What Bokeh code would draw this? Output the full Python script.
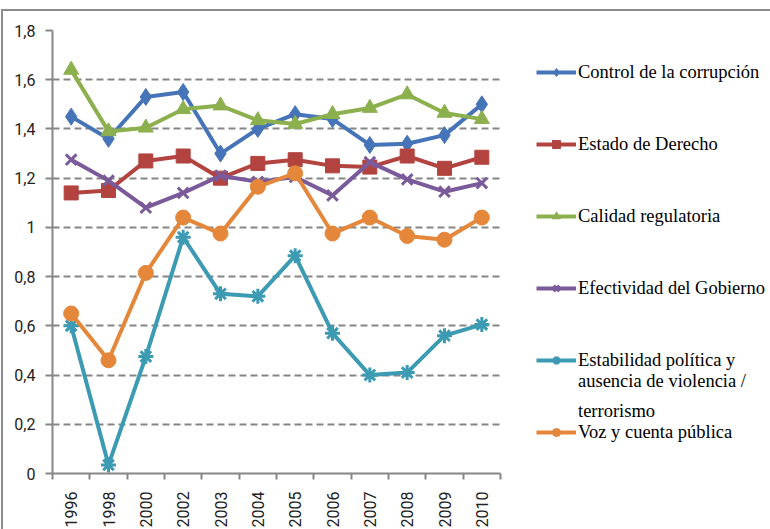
from bokeh.plotting import figure
from bokeh.models import (FixedTicker, CustomJSTickFormatter, Legend, LegendItem)
from bokeh.embed import file_html
from bokeh.resources import INLINE

years = ["1996", "1998", "2000", "2002", "2003", "2004", "2005", "2006", "2007", "2008", "2009", "2010"]

control_corrupcion = [1.45, 1.36, 1.53, 1.55, 1.30, 1.40, 1.46, 1.44, 1.335, 1.34, 1.375, 1.50]
estado_derecho = [1.14, 1.15, 1.27, 1.29, 1.20, 1.26, 1.275, 1.25, 1.245, 1.29, 1.24, 1.285]
calidad_regulatoria = [1.64, 1.39, 1.405, 1.48, 1.495, 1.435, 1.42, 1.46, 1.485, 1.54, 1.465, 1.44]
efectividad_gobierno = [1.275, 1.19, 1.08, 1.14, 1.21, 1.185, 1.205, 1.13, 1.265, 1.195, 1.145, 1.18]
estabilidad_politica = [0.60, 0.035, 0.475, 0.96, 0.73, 0.72, 0.885, 0.57, 0.40, 0.41, 0.56, 0.605]
voz_cuenta = [0.65, 0.46, 0.815, 1.04, 0.975, 1.165, 1.22, 0.975, 1.04, 0.965, 0.95, 1.04]

# legend labels; the long one wraps over the last two entries' text lines
series_names = ["Control de la corrupción", "Estado de Derecho", "Calidad regulatoria",
                "Efectividad del Gobierno",
                "\nEstabilidad política y\nausencia de violencia /",
                "terrorismo\nVoz y cuenta pública\n\u00a0"]
y_ticks = [0, 0.2, 0.4, 0.6, 0.8, 1.0, 1.2, 1.4, 1.6, 1.8]

x_pos = [i + 0.5 for i in range(len(years))]

p = figure(frame_width=448, frame_height=443, x_range=(0, len(years)), y_range=(0, 1.8),
           output_backend="svg", toolbar_location=None,
           min_border_left=49, min_border_right=262, min_border_top=19, min_border_bottom=48)
p.styles = {"border-top": "2px solid #8c8c8c", "border-left": "2px solid #8c8c8c",
            "margin-top": "9px", "margin-left": "1px"}
p.outline_line_color = None
p.background_fill_color = "white"
p.border_fill_color = "white"

grid_col = "#868686"
p.xgrid.grid_line_color = None
p.ygrid.grid_line_color = grid_col
p.ygrid.grid_line_width = 2
p.ygrid.grid_line_dash = "7 4"
p.ygrid.ticker = FixedTicker(ticks=y_ticks)

p.yaxis.ticker = FixedTicker(ticks=y_ticks)
p.yaxis.formatter = CustomJSTickFormatter(code="var s = tick.toFixed(1).replace('.', ','); return s.endsWith(',0') ? s.slice(0, -2) : s;")
p.yaxis.axis_line_color = grid_col
p.yaxis.axis_line_width = 2
p.yaxis.major_tick_line_color = grid_col
p.yaxis.major_tick_line_width = 2
p.yaxis.major_tick_out = 7
p.yaxis.major_tick_in = 0
p.yaxis.minor_tick_line_color = None
p.yaxis.major_label_standoff = 10
p.yaxis.major_label_text_font = "Roboto"
p.yaxis.major_label_text_font_size = "16px"
p.yaxis.major_label_text_color = "#222222"

p.xaxis.ticker = FixedTicker(ticks=x_pos, minor_ticks=list(range(len(years) + 1)))
p.xaxis.major_label_overrides = {x: y for x, y in zip(x_pos, years)}
p.xaxis.major_label_orientation = 1.5708
p.xaxis.axis_line_color = grid_col
p.xaxis.axis_line_width = 2
p.xaxis.major_tick_line_color = None
p.xaxis.major_tick_out = 0
p.xaxis.major_tick_in = 0
p.xaxis.minor_tick_line_color = grid_col
p.xaxis.minor_tick_line_width = 2
p.xaxis.minor_tick_out = 6
p.xaxis.minor_tick_in = 0
p.xaxis.major_label_standoff = 12
p.xaxis.major_label_text_font = "Roboto"
p.xaxis.major_label_text_font_size = "16px"
p.xaxis.major_label_text_color = "#222222"

colors = ["#4674B8", "#B2433F", "#8DB04F", "#7A5A9A", "#3C9AB3", "#E5873A"]
markers = ["diamond", "square", "triangle", "x", "asterisk", "circle"]
sizes = [17, 14, 15, 15, 15, 15]
data = [control_corrupcion, estado_derecho, calidad_regulatoria,
        efectividad_gobierno, estabilidad_politica, voz_cuenta]

items = []
for name, vals, col, mk, sz in zip(series_names, data, colors, markers, sizes):
    l = p.line(x_pos, vals, line_color=col, line_width=4)
    lw = 3 if mk in ("x", "asterisk") else 1
    s = p.scatter(x_pos, vals, marker=mk, size=sz, fill_color=col, line_color=col, line_width=lw)
    items.append(LegendItem(label=name, renderers=[l, s]))

lp = 21
item_h = 3 * lp
legend = Legend(items=items, location=(36, 473 - 432 - item_h / 2), orientation="vertical",
                glyph_width=40, glyph_height=20, label_height=item_h, spacing=72 - item_h,
                label_standoff=2, padding=0, margin=0, border_line_color=None,
                background_fill_alpha=0, label_text_font="Liberation Serif",
                label_text_font_size="18.5px", label_text_line_height=1.2,
                label_text_color="#000000")
p.add_layout(legend, "right")

open("out.html", "w").write(file_html(p, INLINE))
